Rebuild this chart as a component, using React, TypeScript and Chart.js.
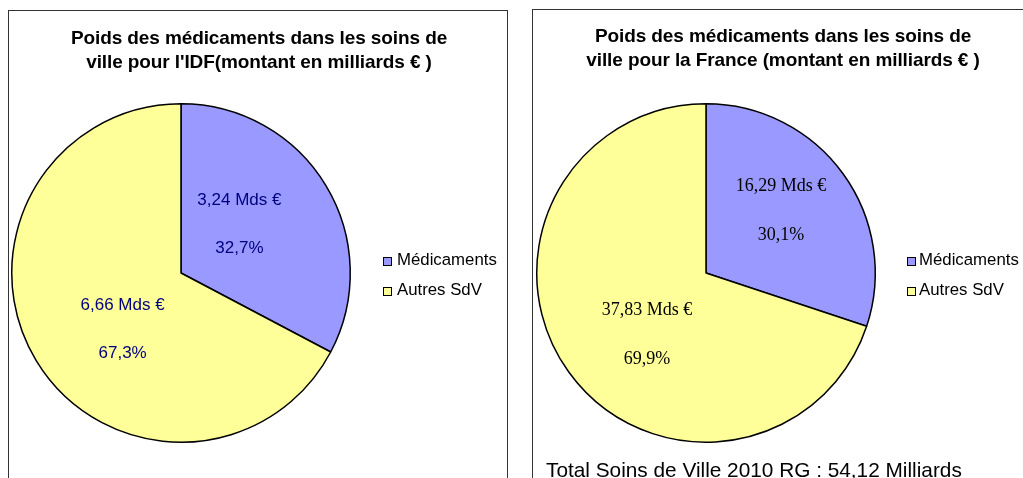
import React, { useEffect, useRef } from "react";
import { Chart, registerables } from "chart.js";

Chart.register(...registerables);

const categories = ["Médicaments", "Autres SdV"];
const idfValues = [3.24, 6.66];
const franceValues = [16.29, 37.83];
const colors = ["#9999FF", "#FFFF99"];
const idfTitle = ["Poids des médicaments dans les soins de", "ville pour l'IDF(montant en milliards € )"];
const franceTitle = ["Poids des médicaments dans les soins de", "ville pour la France (montant en milliards € )"];
const totalText = "Total Soins de Ville 2010 RG : 54,12 Milliards";

const fmt = (v: number, d: number) => v.toFixed(d).replace(".", ",");

type LabelStyle = { font: string; color: string; factor: number; gap: number; shiftDeg: number; dx: number; dy: number };

function makeLabelPlugin(s: LabelStyle) {
  return {
    id: "sliceLabels",
    afterDatasetsDraw(chart: any) {
      const ctx = chart.ctx;
      const meta = chart.getDatasetMeta(0);
      const data = chart.data.datasets[0].data as number[];
      const total = data.reduce((a, b) => a + b, 0);
      ctx.save();
      ctx.font = s.font;
      ctx.fillStyle = s.color;
      ctx.textAlign = "center";
      ctx.textBaseline = "middle";
      meta.data.forEach((arc: any, i: number) => {
        const p = arc.getProps(["x", "y", "startAngle", "endAngle", "outerRadius"], true);
        const mid = (p.startAngle + p.endAngle) / 2 + (s.shiftDeg * Math.PI) / 180;
        const cx = p.x + Math.cos(mid) * p.outerRadius * s.factor + s.dx;
        const cy = p.y + Math.sin(mid) * p.outerRadius * s.factor + s.dy;
        ctx.fillText(fmt(data[i], 2) + " Mds €", cx, cy - s.gap / 2);
        ctx.fillText(fmt((data[i] / total) * 100, 1) + "%", cx, cy + s.gap / 2);
      });
      ctx.restore();
    },
  };
}

function PieCanvas(props: {
  values: number[];
  padding: { left: number; right: number; top: number; bottom: number };
  label: LabelStyle;
}) {
  const ref = useRef<HTMLCanvasElement>(null);
  useEffect(() => {
    const chart = new Chart(ref.current!, {
      type: "pie",
      data: {
        labels: categories,
        datasets: [
          {
            data: props.values,
            backgroundColor: colors,
            borderColor: "#000000",
            borderWidth: 1.5,
          },
        ],
      },
      options: {
        animation: false,
        responsive: true,
        maintainAspectRatio: false,
        layout: { padding: props.padding },
        plugins: { legend: { display: false }, title: { display: false }, tooltip: { enabled: false } },
      },
      plugins: [makeLabelPlugin(props.label)],
    });
    return () => chart.destroy();
  }, []);
  return <canvas ref={ref} />;
}

function Legend(props: { left: number; top: number; textLeft: number }) {
  return (
    <>
      {categories.map((c, i) => (
        <div key={c}>
          <div
            style={{
              position: "absolute",
              left: props.left,
              top: props.top + i * 30,
              width: 9,
              height: 9,
              boxSizing: "border-box",
              border: "1px solid #000",
              background: colors[i],
            }}
          />
          <div
            style={{
              position: "absolute",
              left: props.textLeft,
              top: props.top - 7 + i * 30,
              font: "16.8px 'Liberation Sans', Arial, sans-serif",
              lineHeight: "20px",
              whiteSpace: "nowrap",
              color: "#000",
            }}
          >
            {c}
          </div>
        </div>
      ))}
    </>
  );
}

function Title(props: { lines: string[]; center: number; top: number }) {
  return (
    <div
      style={{
        position: "absolute",
        left: props.center - 250,
        width: 500,
        top: props.top,
        textAlign: "center",
        font: "bold 19px 'Liberation Sans', Arial, sans-serif",
        lineHeight: "24px",
        color: "#000",
        letterSpacing: "-0.1px",
      }}
    >
      {props.lines.map((l) => (
        <div key={l}>{l}</div>
      ))}
    </div>
  );
}

export default function App() {
  return (
    <div
      style={{
        position: "fixed",
        left: 0,
        top: 0,
        width: 1023,
        height: 478,
        overflow: "hidden",
        background: "#fff",
      }}
    >
      {/* Left panel */}
      <div
        style={{
          position: "absolute",
          left: 8,
          top: 10,
          width: 500,
          height: 490,
          boxSizing: "border-box",
          border: "1.5px solid #333",
        }}
      />
      <div style={{ position: "absolute", left: 9, top: 11, width: 498, height: 467 }}>
        <PieCanvas
          values={idfValues}
          padding={{ left: 2, right: 156, top: 92, bottom: 35 }}
          label={{
            font: "17px 'Liberation Sans', Arial, sans-serif",
            color: "#000080",
            factor: 0.465,
            gap: 48,
            shiftDeg: -11,
            dx: 0,
            dy: 4,
          }}
        />
      </div>
      <Title lines={idfTitle} center={259} top={26} />
      <Legend left={383} top={257} textLeft={397} />

      {/* Right panel */}
      <div
        style={{
          position: "absolute",
          left: 532,
          top: 9,
          width: 520,
          height: 490,
          boxSizing: "border-box",
          border: "1.5px solid #333",
        }}
      />
      <div style={{ position: "absolute", left: 533, top: 10, width: 490, height: 468 }}>
        <PieCanvas
          values={franceValues}
          padding={{ left: 3, right: 147, top: 93, bottom: 35 }}
          label={{
            font: "18px 'Liberation Serif', 'Times New Roman', serif",
            color: "#000000",
            factor: 0.54,
            gap: 49,
            shiftDeg: -7,
            dx: 8,
            dy: 0,
          }}
        />
      </div>
      <Title lines={franceTitle} center={783} top={24} />
      <Legend left={907} top={257} textLeft={919} />
      <div
        style={{
          position: "absolute",
          left: 546,
          top: 460,
          font: "20.8px 'Liberation Sans', Arial, sans-serif",
          lineHeight: "20px",
          whiteSpace: "nowrap",
          color: "#000",
        }}
      >
        {totalText}
      </div>
    </div>
  );
}
